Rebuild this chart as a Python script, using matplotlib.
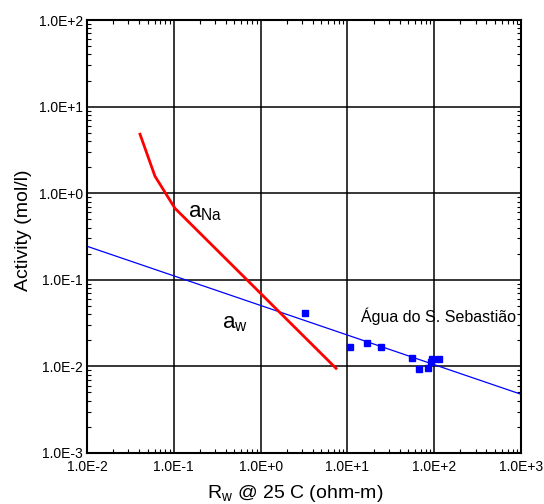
import matplotlib
matplotlib.use("Agg")
import matplotlib.pyplot as plt
from matplotlib.ticker import LogLocator, NullFormatter

plt.rcParams['font.family'] = ['Liberation Sans', 'DejaVu Sans']
plt.rcParams['mathtext.fontset'] = 'custom'
plt.rcParams['mathtext.rm'] = 'Liberation Sans'

# Data
na_rw = [0.0408, 0.0607, 0.103, 7.4]
na_act = [4.8, 1.57, 0.67, 0.0095]

w_rw = [0.01, 1000.0]
w_act = [0.244, 0.00477]

pts_rw = [3.27, 10.8, 16.9, 24.6, 56.0, 66.8, 84.9, 91.8, 95.0, 112.7]
pts_act = [0.0419, 0.0168, 0.0184, 0.0168, 0.01244, 0.00936, 0.0096, 0.01127, 0.0121, 0.0121]

major_ticks_x = [1e-2, 1e-1, 1e0, 1e1, 1e2, 1e3]
major_labels_x = ["1.0E-2", "1.0E-1", "1.0E+0", "1.0E+1", "1.0E+2", "1.0E+3"]
major_ticks_y = [1e-3, 1e-2, 1e-1, 1e0, 1e1, 1e2]
major_labels_y = ["1.0E-3", "1.0E-2", "1.0E-1", "1.0E+0", "1.0E+1", "1.0E+2"]

fig = plt.figure(figsize=(5.44, 5.04), dpi=100)
ax = fig.add_axes([87/544, 1-453/504, (521-87)/544, (453-20)/504])
ax.set_xscale('log')
ax.set_yscale('log')
ax.set_xlim(1e-2, 1e3)
ax.set_ylim(1e-3, 1e2)

ax.plot(w_rw, w_act, color='#0000ff', lw=0.9, zorder=3)
ax.plot(na_rw, na_act, color='#ff0000', lw=2.0, zorder=4)
ax.plot(pts_rw, pts_act, ls='none', marker='s', ms=4, color='#0000ff', mec='#0000ff', zorder=5)

ax.set_xticks(major_ticks_x)
ax.set_xticklabels(major_labels_x)
ax.set_yticks(major_ticks_y)
ax.set_yticklabels(major_labels_y)
ax.xaxis.set_minor_locator(LogLocator(base=10, subs=range(2, 10)))
ax.yaxis.set_minor_locator(LogLocator(base=10, subs=range(2, 10)))
ax.xaxis.set_minor_formatter(NullFormatter())
ax.yaxis.set_minor_formatter(NullFormatter())
ax.tick_params(which='both', direction='in', top=True, right=True, color='black')
ax.tick_params(which='major', length=0, labelsize=10)
ax.tick_params(axis='x', which='major', pad=5)
ax.tick_params(axis='y', which='major', pad=3)
ax.tick_params(which='minor', length=3, width=0.8)
ax.grid(True, which='major', color='black', lw=1.1)
for s in ax.spines.values():
    s.set_linewidth(1.5)
    s.set_zorder(6)

fig.text(295/544, 1-493/504, r"R$_{\mathrm{w}}$ @ 25 C (ohm-m)", fontsize=14,
         ha='center', va='center')
fig.text(24/544, 1-230/504, "Activity (mol/l)", fontsize=14, rotation=90,
         ha='center', va='center')

ax.text(0.145, 0.60, r"a$_{\mathrm{Na}}$", fontsize=16, ha='left', va='center')
ax.text(0.36, 0.031, r"a$_{\mathrm{w}}$", fontsize=16, ha='left', va='center')
ax.text(14.4, 0.038, "Água do S. Sebastião", fontsize=11.5, ha='left', va='center')

fig.savefig("out.png", dpi=100)
